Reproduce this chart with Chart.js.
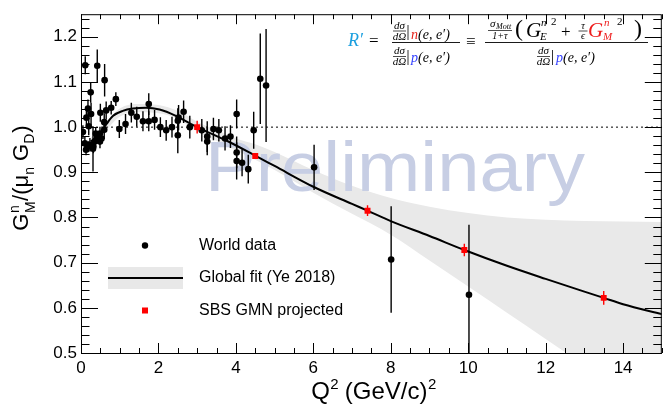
<!DOCTYPE html>
<html>
<head>
<meta charset="utf-8">
<script src="https://cdn.jsdelivr.net/npm/chart.js@4.4.1/dist/chart.umd.min.js"></script>
<style>
  html, body { margin: 0; padding: 0; background: #ffffff; overflow: hidden; }
  canvas { display: block; }
</style>
</head>
<body>
<canvas id="c" width="666" height="411"></canvas>
<script>
// World data: Q^2 [(GeV/c)^2], G_M^n/(mu_n G_D), uncertainty
const worldQ2 = [0.05, 0.10, 0.11, 0.13, 0.14, 0.18, 0.19, 0.20, 0.23, 0.25, 0.26, 0.31, 0.32, 0.36, 0.38, 0.42, 0.42, 0.49, 0.49, 0.50,
                 0.53, 0.60, 0.60, 0.61, 0.65, 0.78, 0.90, 0.99, 1.15, 1.30, 1.44, 1.60, 1.75, 1.75, 1.90, 2.05, 2.20, 2.35, 2.50, 2.52,
                 2.50, 2.65, 2.81, 3.12, 3.26, 3.26, 3.42, 3.56, 3.72, 3.86, 4.02, 4.02, 4.02, 4.16, 4.32, 4.46, 4.63, 4.78, 6.02, 8.01, 10.02];
const worldVal = [0.989, 0.964, 1.137, 0.950, 1.021, 1.041, 0.957, 1.002, 0.961, 1.077, 1.029, 0.952, 0.957, 0.968, 0.986, 1.136, 0.979, 0.986, 0.968, 1.032,
                  0.975, 0.994, 1.011, 1.104, 1.037, 1.043, 1.062, 0.996, 1.007, 1.032, 1.023, 1.013, 1.013, 1.051, 1.016, 1.000, 0.993, 1.000, 1.014, 1.021,
                  0.982, 1.034, 1.000, 0.993, 0.979, 0.968, 0.996, 0.993, 0.975, 0.979, 1.029, 0.944, 0.925, 0.921, 0.907, 0.993, 1.107, 1.092, 0.911, 0.707, 0.629];
const worldErr = [0.015, 0.015, 0.020, 0.012, 0.018, 0.020, 0.012, 0.020, 0.015, 0.023, 0.025, 0.050, 0.015, 0.015, 0.012, 0.036, 0.012, 0.015, 0.015, 0.020,
                  0.012, 0.020, 0.020, 0.036, 0.020, 0.015, 0.015, 0.020, 0.022, 0.022, 0.022, 0.022, 0.022, 0.024, 0.022, 0.022, 0.023, 0.023, 0.028, 0.028,
                  0.040, 0.025, 0.025, 0.025, 0.034, 0.030, 0.025, 0.025, 0.027, 0.025, 0.032, 0.035, 0.041, 0.030, 0.032, 0.041, 0.100, 0.125, 0.050, 0.118, 0.155];

// SBS GMN projected points
const sbsQ2  = [3.0, 4.5, 7.4, 9.9, 13.5];
const sbsVal = [1.000, 0.936, 0.815, 0.728, 0.622];
const sbsErr = [0.014, 0.004, 0.012, 0.014, 0.015];

// Global fit (Ye 2018): central curve
const fitQ2  = [0.25, 0.50, 0.66, 0.83, 1.08, 1.34, 1.68, 2.03, 2.45, 3.00, 3.74, 4.50, 5.00, 6.00, 7.00, 7.40, 8.00, 9.00, 9.90, 11.0, 12.0, 13.5, 14.0, 15.0];
const fitVal = [0.968, 0.987, 1.007, 1.025, 1.036, 1.041, 1.043, 1.039, 1.025, 1.000, 0.971, 0.937, 0.914, 0.868, 0.830, 0.815, 0.792, 0.759, 0.728, 0.693, 0.664, 0.622, 0.608, 0.586];

// Global fit uncertainty band
const bandQ2   = [0.25, 0.50, 1.00, 1.50, 2.00, 2.50, 3.00, 3.50, 4.00, 4.50, 5.00, 6.00, 7.00, 8.00, 9.00, 10.0, 11.0, 12.0, 13.0, 14.0, 15.0];
const bandHigh = [0.977, 0.996, 1.041, 1.051, 1.049, 1.036, 1.012, 0.993, 0.975, 0.962, 0.945, 0.905, 0.870, 0.843, 0.824, 0.810, 0.800, 0.795, 0.792, 0.791, 0.790];
const bandLow  = [0.959, 0.978, 1.023, 1.033, 1.031, 1.018, 0.990, 0.970, 0.948, 0.928, 0.905, 0.855, 0.808, 0.762, 0.705, 0.647, 0.589, 0.531, 0.473, 0.415, 0.357];

// Axis ticks
const xTicks = [0, 2, 4, 6, 8, 10, 12, 14];
const yTicks = [0.5, 0.6, 0.7, 0.8, 0.9, 1.0, 1.1, 1.2];

const SANS = "'Liberation Sans', Arial, Helvetica, sans-serif";
const SERIF = "'Liberation Serif', 'DejaVu Serif', serif";

const pts = (xs, ys) => xs.map((x, i) => ({ x: x, y: ys[i] }));

function txt(ctx, s, x, y, font, color, align) {
  ctx.font = font;
  ctx.fillStyle = color || '#000';
  ctx.textAlign = align || 'left';
  ctx.textBaseline = 'alphabetic';
  ctx.fillText(s, x, y);
  return ctx.measureText(s).width;
}
function hline(ctx, x1, x2, y, w) {
  ctx.beginPath(); ctx.lineWidth = w || 0.8; ctx.strokeStyle = '#000';
  ctx.moveTo(x1, y); ctx.lineTo(x2, y); ctx.stroke();
}
function vline(ctx, x, y1, y2, w) {
  ctx.beginPath(); ctx.lineWidth = w || 0.8; ctx.strokeStyle = '#000';
  ctx.moveTo(x, y1); ctx.lineTo(x, y2); ctx.stroke();
}
// small d-sigma / d-Omega fraction centred at cx
function dsdo(ctx, cx, top) {
  const f = 'italic 11px ' + SERIF;
  txt(ctx, 'dσ', cx, top + 6.5, f, '#000', 'center');
  hline(ctx, cx - 6.5, cx + 6.5, top + 9, 0.7);
  txt(ctx, 'dΩ', cx, top + 17.5, f, '#000', 'center');
}

function drawErrorBars(chart, xs, ys, es, color, width) {
  const ctx = chart.ctx, xs_ = chart.scales.x, ys_ = chart.scales.y, a = chart.chartArea;
  ctx.save();
  ctx.beginPath(); ctx.rect(a.left, a.top, a.right - a.left, a.bottom - a.top); ctx.clip();
  ctx.strokeStyle = color; ctx.lineWidth = width;
  for (let i = 0; i < xs.length; i++) {
    const px = xs_.getPixelForValue(xs[i]);
    ctx.beginPath();
    ctx.moveTo(px, ys_.getPixelForValue(ys[i] - es[i]));
    ctx.lineTo(px, ys_.getPixelForValue(ys[i] + es[i]));
    ctx.stroke();
  }
  ctx.restore();
}

const decor = {
  id: 'decor',
  beforeDatasetDraw(chart, args) {
    if (args.index === 1) drawErrorBars(chart, worldQ2, worldVal, worldErr, '#000', 1.4);
    if (args.index === 0) drawErrorBars(chart, sbsQ2, sbsVal, sbsErr, '#ff0000', 1.4);
  },
  afterDatasetDraw(chart, args) {
    if (args.index !== 4) return;
    // "Preliminary" watermark
    const ctx = chart.ctx;
    ctx.save();
    ctx.font = '70px ' + SANS;
    const w = ctx.measureText('Preliminary').width;
    ctx.translate(205, 191);
    ctx.scale(380 / w, 1);
    ctx.fillStyle = '#c7cee4';
    ctx.textAlign = 'left'; ctx.textBaseline = 'alphabetic';
    ctx.fillText('Preliminary', 0, 0);
    ctx.restore();
  },
  afterDraw(chart) {
    const ctx = chart.ctx, a = chart.chartArea, sx = chart.scales.x, sy = chart.scales.y;
    ctx.save();
    // frame
    ctx.strokeStyle = '#000'; ctx.lineWidth = 1;
    ctx.strokeRect(a.left + 0.5, a.top + 0.5, a.right - a.left - 1, a.bottom - a.top);
    // x ticks, bottom and top
    ctx.beginPath();
    for (let i = 0; i <= 30; i++) {
      const v = i * 0.5;
      const px = Math.round(sx.getPixelForValue(v)) + 0.5;
      const len = (i % 4 === 0) ? 10 : 5;
      ctx.moveTo(px, a.bottom); ctx.lineTo(px, a.bottom - len);
      ctx.moveTo(px, a.top); ctx.lineTo(px, a.top + len);
    }
    // y ticks, left and right
    for (let i = 0; i <= 37; i++) {
      const v = 0.5 + i * 0.02;
      const py = Math.round(sy.getPixelForValue(v)) + 0.5;
      const len = (i % 5 === 0) ? 17 : 8.5;
      ctx.moveTo(a.left, py); ctx.lineTo(a.left + len, py);
      ctx.moveTo(a.right, py); ctx.lineTo(a.right - len, py);
    }
    ctx.stroke();

    // x title: Q^2 (GeV/c)^2
    {
      const big = '24px ' + SANS, sm = '15px ' + SANS;
      ctx.font = big; const w1 = ctx.measureText('Q').width, w3 = ctx.measureText(' (GeV/c)').width;
      ctx.font = sm; const w2 = ctx.measureText('2').width;
      let x = 373.5 - (w1 + w2 + w3 + w2) / 2;
      const y = 399;
      x += txt(ctx, 'Q', x, y, big);
      x += txt(ctx, '2', x + 0.5, y - 10, sm);
      x += txt(ctx, ' (GeV/c)', x, y, big);
      txt(ctx, '2', x + 0.5, y - 10, sm);
    }
    // y title: G^n_M/(mu_n G_D), rotated
    {
      const big = '22px ' + SANS, sm = '14px ' + SANS;
      ctx.save();
      ctx.translate(28, 178);
      ctx.rotate(-Math.PI / 2);
      ctx.font = big;
      const wG = ctx.measureText('G').width, wA = ctx.measureText('/(μ').width,
            wB = ctx.measureText(' G').width, wC = ctx.measureText(')').width;
      ctx.font = sm;
      const wNM = Math.max(ctx.measureText('n').width, ctx.measureText('M').width),
            wn = ctx.measureText('n').width, wD = ctx.measureText('D').width;
      const total = wG + wNM + wA + wn + wB + wD + wC + 2;
      let x = -total / 2;
      x += txt(ctx, 'G', x, 0, big);
      txt(ctx, 'n', x + 0.5, -9, sm);
      txt(ctx, 'M', x + 0.5, 7, sm);
      x += wNM + 1;
      x += txt(ctx, '/(μ', x, 0, big);
      x += txt(ctx, 'n', x, 6, sm);
      x += txt(ctx, ' G', x, 0, big);
      x += txt(ctx, 'D', x, 6, sm) + 1;
      txt(ctx, ')', x, 0, big);
      ctx.restore();
    }

    // legend
    {
      const lf = '16px ' + SANS;
      ctx.beginPath(); ctx.fillStyle = '#000';
      ctx.arc(145, 245.5, 3.2, 0, Math.PI * 2); ctx.fill();
      ctx.fillStyle = '#e8e8e8';
      ctx.fillRect(108, 267, 75, 22);
      ctx.beginPath(); ctx.strokeStyle = '#000'; ctx.lineWidth = 2;
      ctx.moveTo(108, 278); ctx.lineTo(183, 278); ctx.stroke();
      ctx.fillStyle = '#ff0000';
      ctx.fillRect(142, 307.5, 6, 6);
      ctx.textBaseline = 'middle';
      ctx.font = lf; ctx.fillStyle = '#000'; ctx.textAlign = 'left';
      ctx.fillText('World data', 199, 246);
      ctx.fillText('Global fit (Ye 2018)', 199, 278);
      ctx.fillText('SBS GMN projected', 199, 311);
    }

    // ratio formula
    {
      const it14 = 'italic 14px ' + SERIF, up17 = '17px ' + SERIF;
      txt(ctx, 'R′', 348, 46, 'italic 18px ' + SERIF, '#1b9fdf');
      txt(ctx, '=', 369, 46, up17);
      // first fraction
      hline(ctx, 392, 460, 42.5, 0.9);
      dsdo(ctx, 399.5, 22);
      vline(ctx, 408, 25, 40, 0.8);
      let x = 411;
      x += txt(ctx, 'n', x, 38.5, it14, '#e32219');
      txt(ctx, '(e, e′)', x, 38.5, it14);
      dsdo(ctx, 399.5, 47.5);
      vline(ctx, 408, 50, 65, 0.8);
      x = 411;
      x += txt(ctx, 'p', x, 62, it14, '#2f3cff');
      txt(ctx, '(e, e′)', x, 62, it14);
      // identity sign
      txt(ctx, '≡', 466, 47, up17);
      // second fraction
      hline(ctx, 485, 648, 42.5, 0.9);
      txt(ctx, 'σ', 490, 27, 'italic 11px ' + SERIF);
      txt(ctx, 'Mott', 496, 29, 'italic 8px ' + SERIF);
      hline(ctx, 488, 512, 30.5, 0.7);
      txt(ctx, '1+τ', 500, 39, 'italic 10px ' + SERIF, '#000', 'center');
      txt(ctx, '(', 515, 35.5, '24px ' + SERIF);
      const G = 'italic 21px ' + SERIF, s11 = 'italic 11px ' + SERIF;
      txt(ctx, 'G', 526, 37, G);
      txt(ctx, 'n', 541, 26, s11);
      txt(ctx, 'E', 540, 40, s11);
      txt(ctx, '2', 551, 25, '11px ' + SERIF);
      txt(ctx, '+', 561, 37, up17);
      txt(ctx, 'τ', 583, 29, 'italic 10px ' + SERIF, '#000', 'center');
      hline(ctx, 578.5, 587.5, 31, 0.7);
      txt(ctx, 'ϵ', 583, 39, 'italic 10px ' + SERIF, '#000', 'center');
      txt(ctx, 'G', 588, 37, G, '#ee1c1c');
      txt(ctx, 'n', 604, 26, s11, '#ee1c1c');
      txt(ctx, 'M', 603, 40, s11, '#ee1c1c');
      txt(ctx, '2', 617, 25, '11px ' + SERIF);
      txt(ctx, ')', 634, 35.5, '24px ' + SERIF);
      dsdo(ctx, 543.5, 47.5);
      vline(ctx, 552.5, 50, 65, 0.8);
      x = 556;
      x += txt(ctx, 'p', x, 62, it14, '#2f3cff');
      txt(ctx, '(e, e′)', x, 62, it14);
    }
    ctx.restore();
  }
};

new Chart(document.getElementById('c'), {
  type: 'scatter',
  data: {
    datasets: [
      { // 0: SBS GMN projected
        data: pts(sbsQ2, sbsVal), pointStyle: 'rect', pointRadius: 4.2,
        backgroundColor: '#ff0000', borderColor: '#ff0000', borderWidth: 0, showLine: false
      },
      { // 1: world data
        data: pts(worldQ2, worldVal), pointStyle: 'circle', pointRadius: 3.3,
        backgroundColor: '#000', borderColor: '#000', borderWidth: 0, showLine: false
      },
      { // 2: global fit central curve
        data: pts(fitQ2, fitVal), showLine: true, borderColor: '#000', borderWidth: 2,
        pointRadius: 0, cubicInterpolationMode: 'monotone', fill: false
      },
      { // 3: unity reference line
        data: [{ x: 0, y: 1 }, { x: 15, y: 1 }], showLine: true, borderColor: '#000',
        borderWidth: 1, borderDash: [2, 3], pointRadius: 0, fill: false
      },
      { // 4: band upper edge, filled down to the lower edge
        data: pts(bandQ2, bandHigh), showLine: true, borderWidth: 0, borderColor: 'rgba(0,0,0,0)',
        pointRadius: 0, cubicInterpolationMode: 'monotone', fill: '+1', backgroundColor: '#e9e9e9'
      },
      { // 5: band lower edge
        data: pts(bandQ2, bandLow), showLine: true, borderWidth: 0, borderColor: 'rgba(0,0,0,0)',
        pointRadius: 0, cubicInterpolationMode: 'monotone', fill: false
      }
    ]
  },
  options: {
    responsive: false,
    animation: false,
    devicePixelRatio: 1,
    layout: { padding: { top: 3, right: 1, left: 0, bottom: 0 } },
    plugins: { legend: { display: false }, tooltip: { enabled: false } },
    scales: {
      x: {
        type: 'linear', min: 0, max: 15,
        afterFit: s => { s.height = 58; },
        afterBuildTicks: s => { s.ticks = xTicks.map(v => ({ value: v })); },
        grid: { display: false, drawTicks: false },
        border: { display: false },
        ticks: { autoSkip: false, maxRotation: 0, padding: 5, color: '#000',
                 font: { family: SANS, size: 17 }, callback: v => String(v) }
      },
      y: {
        type: 'linear', min: 0.5, max: 1.25,
        afterFit: s => { s.width = 81; },
        afterBuildTicks: s => { s.ticks = yTicks.map(v => ({ value: v })); },
        grid: { display: false, drawTicks: false },
        border: { display: false },
        ticks: { autoSkip: false, padding: 4, color: '#000',
                 font: { family: SANS, size: 17 }, callback: v => v.toFixed(1) }
      }
    }
  },
  plugins: [decor]
});
</script>
</body>
</html>
